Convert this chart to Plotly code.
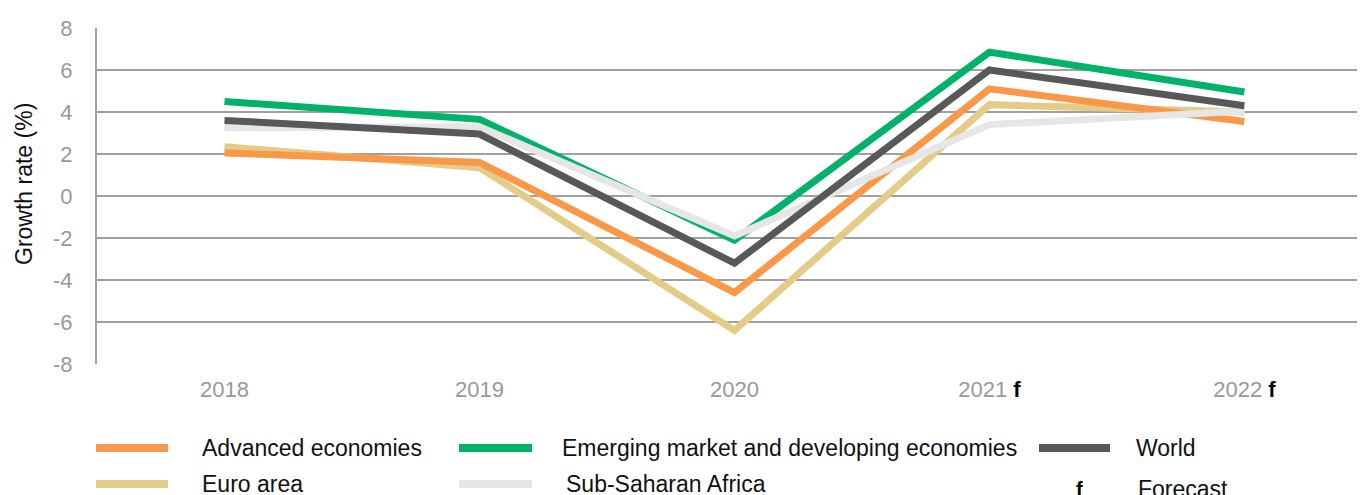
import plotly.graph_objects as go

years = ["2018", "2019", "2020", "2021", "2022"]
year_labels = ["2018", "2019", "2020", "2021 <span style='color:#000000'><b>f</b></span>",
               "2022 <span style='color:#000000'><b>f</b></span>"]
y_ticks = [-8, -6, -4, -2, 0, 2, 4, 6, 8]
y_tick_labels = ["-8", "-6", "-4", "-2", "0", "2", "4", "6", "8"]

advanced = [2.05, 1.6, -4.6, 5.1, 3.55]
emerging = [4.5, 3.65, -2.1, 6.85, 4.95]
world = [3.6, 2.95, -3.2, 6.0, 4.3]
euro = [2.35, 1.35, -6.4, 4.35, 4.0]
ssa = [3.25, 3.3, -1.9, 3.4, 4.05]

names = ["Advanced economies", "Emerging market and developing economies", "World",
         "Euro area", "Sub-Saharan Africa"]
colors = {"Advanced economies": "#F89848", "Emerging market and developing economies": "#00B26A",
          "World": "#58585A", "Euro area": "#E4CB87", "Sub-Saharan Africa": "#E6E6E6"}
values = {"Advanced economies": advanced, "Emerging market and developing economies": emerging,
          "World": world, "Euro area": euro, "Sub-Saharan Africa": ssa}
draw_order = ["Euro area", "Advanced economies", "Emerging market and developing economies",
              "Sub-Saharan Africa", "World"]

fig = go.Figure()
for n in draw_order:
    fig.add_trace(go.Scatter(x=years, y=values[n], mode="lines", name=n,
                             line=dict(color=colors[n], width=7), showlegend=False,
                             hoverinfo="x+y+name"))

# the page adds an 8px body margin; target screen pixels are shifted by it
OFF = 8
W, H = 1365 - OFF, 495 - OFF
L, R, T, B = 97 - OFF, 1365 - OFF, 28 - OFF, 364 - OFF
def px(x):
    return (x - OFF - L) / (R - L)
def py(y):
    return (B - (y - OFF)) / (B - T)

legend_items = [
    ("Advanced economies", 96, 168, 200, 448),
    ("Emerging market and developing economies", 459, 532, 560, 448),
    ("World", 1039, 1110, 1134, 448),
    ("Euro area", 96, 168, 200, 484),
    ("Sub-Saharan Africa", 459, 532, 564, 484),
]
FONT = "Liberation Sans, Arial"
shapes = []
annotations = []
for n, x0, x1, tx, y in legend_items:
    shapes.append(dict(type="line", xref="paper", yref="paper", x0=px(x0), x1=px(x1),
                       y0=py(y), y1=py(y), line=dict(color=colors[n], width=8)))
    annotations.append(dict(xref="paper", yref="paper", x=px(tx), y=py(y), text=n,
                            showarrow=False, xanchor="left", yanchor="middle",
                            font=dict(size=23, color="#111111", family=FONT)))
annotations.append(dict(xref="paper", yref="paper", x=px(1079), y=py(489), text="<b>f</b>",
                        showarrow=False, xanchor="center", yanchor="middle",
                        font=dict(size=20, color="#000000", family=FONT)))
annotations.append(dict(xref="paper", yref="paper", x=px(1136), y=py(489), text="Forecast",
                        showarrow=False, xanchor="left", yanchor="middle",
                        font=dict(size=23, color="#111111", family=FONT)))
annotations.append(dict(xref="paper", yref="paper", x=px(24), y=py(184), text="Growth rate (%)",
                        textangle=-90, showarrow=False, xanchor="center", yanchor="middle",
                        font=dict(size=23, color="#111111", family=FONT)))

fig.update_layout(
    width=W, height=H,
    margin=dict(l=L, r=W - R, t=T, b=H - B),
    plot_bgcolor="white", paper_bgcolor="white",
    font=dict(family=FONT, size=22, color="#999999"),
    shapes=shapes, annotations=annotations,
    xaxis=dict(type="category", range=[-0.5, 4.473], tickmode="array", tickvals=years,
               ticktext=year_labels, showgrid=False, showline=False, zeroline=False,
               ticks="", ticklabelstandoff=10, tickfont=dict(size=22, color="#999999")),
    yaxis=dict(range=[-8, 8], tickmode="array", tickvals=y_ticks, ticktext=y_tick_labels,
               showgrid=True, gridcolor="#A0A0A0", gridwidth=2,
               zeroline=True, zerolinecolor="#A0A0A0", zerolinewidth=2,
               showline=True, linecolor="#A0A0A0", linewidth=2, ticks="",
               ticklabelstandoff=18, tickfont=dict(size=22, color="#999999")),
)

fig.write_html("out.html")
